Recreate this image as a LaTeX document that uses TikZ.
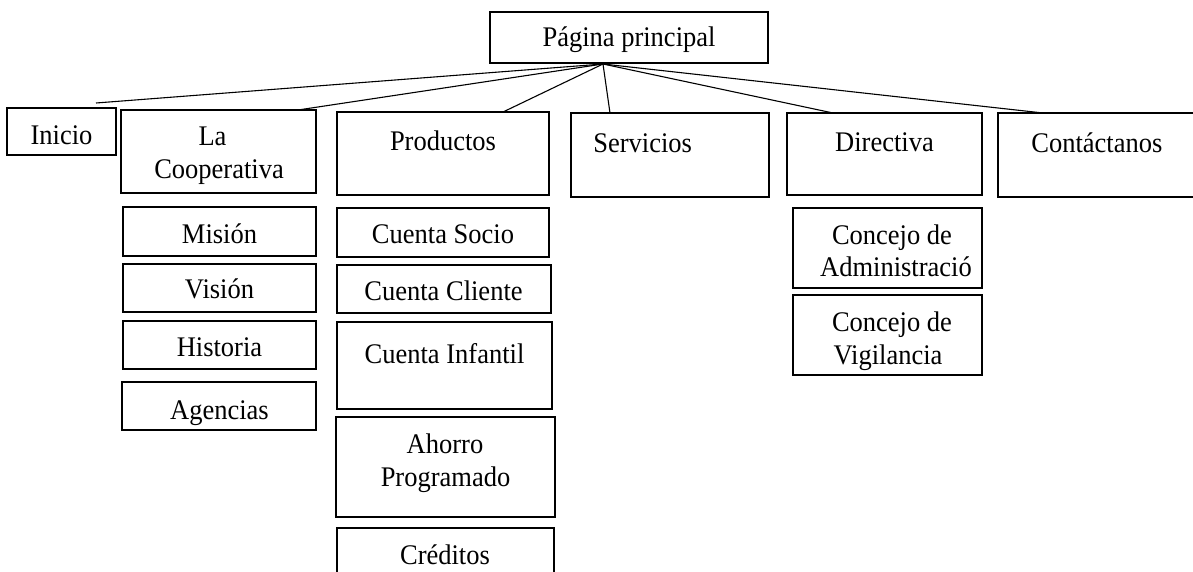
\documentclass[tikz,border=0pt]{standalone}
\usepackage{fontspec}
\setmainfont{Liberation Serif}[FakeStretch=0.933]
\usetikzlibrary{calc}
% boxes are given by their corner coordinates: name, x1, y1, x2, y2
\newcommand\drawbox[5]{%
  \node[box, minimum width={(#4-#2)*0.5pt}, minimum height={(#5-#3)*0.5pt}] (#1) at (#2,#3) {};}
\begin{document}
\begin{tikzpicture}[x=0.5pt,y=-0.5pt,
  box/.style={draw, line width=1.2pt, inner sep=0pt, outer sep=0pt, anchor=north west},
  txt/.style={inner sep=0pt, anchor=base, font=\fontsize{14.2}{16}\selectfont},
  txtl/.style={txt, anchor=base west},
  link/.style={line width=0.55pt}]
\useasboundingbox (0,0) rectangle (1193,572);

% top level
\drawbox{main}{490}{12}{768}{63}
\drawbox{inicio}{7}{108}{116}{155}
\drawbox{coop}{121}{110}{316}{193}
\drawbox{prod}{337}{112}{549}{195}
\drawbox{serv}{571}{113}{769}{197}
\drawbox{dir}{787}{113}{982}{195}
\drawbox{cont}{998}{113}{1200}{197}

% La Cooperativa
\drawbox{mision}{123}{207}{316}{256}
\drawbox{vision}{123}{264}{316}{312}
\drawbox{historia}{123}{321}{316}{369}
\drawbox{agencias}{122}{382}{316}{430}

% Productos
\drawbox{socio}{337}{208}{549}{257}
\drawbox{cliente}{337}{265}{551}{313}
\drawbox{infantil}{337}{322}{552}{409}
\drawbox{ahorro}{336}{417}{555}{517}
\drawbox{creditos}{337}{528}{554}{585}

% Directiva
\drawbox{admin}{793}{208}{982}{288}
\drawbox{vigil}{793}{295}{982}{375}

% labels
\node[txt] (main-t) at (629,47) {Página principal};
\node[txt] (inicio-t) at (61.5,145) {Inicio};
\node[txt] (coop-t1) at (212.5,146) {La};
\node[txt] (coop-t2) at (219,179) {Cooperativa};
\node[txt] (prod-t) at (443,151) {Productos};
\node[txtl] (serv-t) at (593,153) {Servicios};
\node[txt] (dir-t) at (884.5,152) {Directiva};
\node[txtl] (cont-t) at (1031,153) {Contáctanos};

\node[txt] (mision-t) at (219.5,243) {Misión};
\node[txt] (vision-t) at (219.5,299) {Visión};
\node[txt] (historia-t) at (219.5,356) {Historia};
\begin{scope}
  \clip ($(agencias.north west)+(2,2)$) rectangle ($(agencias.south east)+(-2,-2)$);
  \node[txt] (agencias-t) at (219.5,419) {Agencias};
\end{scope}

\node[txt] (socio-t) at (443,243) {Cuenta Socio};
\node[txt] (cliente-t) at (443.5,300) {Cuenta Cliente};
\node[txt] (infantil-t) at (444.5,363) {Cuenta Infantil};
\node[txt] (ahorro-t1) at (445,453) {Ahorro};
\node[txt] (ahorro-t2) at (445.5,486) {Programado};
\node[txt] (creditos-t) at (445,564) {Créditos};

\node[txt] (admin-t1) at (892,245) {Concejo de};
\node[txt] (admin-t2) at (896,277) {Administració};
\node[txt] (vigil-t1) at (892,331) {Concejo de};
\begin{scope}
  \clip ($(vigil.north west)+(2,2)$) rectangle ($(vigil.south east)+(-2,-2)$);
  \node[txt] (vigil-t2) at (888,364) {Vigilancia};
\end{scope}

% connectors from the main page to each section
\coordinate (hub) at ($(main.south west)+(113,1)$);
\draw[link] (hub) -- ($(inicio.north west)+(89,-5)$);
\draw[link] (hub) -- ($(coop.north west)+(177,0)$);
\draw[link] (hub) -- ($(prod.north west)+(166,0)$);
\draw[link] (hub) -- ($(serv.north west)+(39,0)$);
\draw[link] (hub) -- ($(dir.north west)+(46,0)$);
\draw[link] (hub) -- ($(cont.north west)+(45,0)$);
\end{tikzpicture}
\end{document}
